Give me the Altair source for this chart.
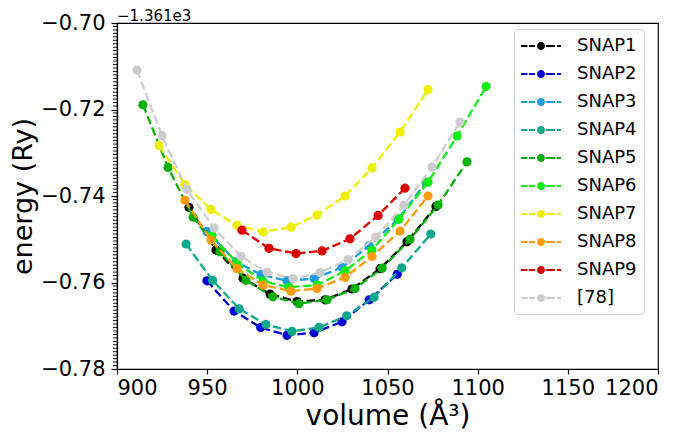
import altair as alt
import pandas as pd

# energies are shown relative to -1361 Ry (axis offset label below)
offset_label = "−1.361e3"
series_names = ["SNAP1", "SNAP2", "SNAP3", "SNAP4", "SNAP5",
                "SNAP6", "SNAP7", "SNAP8", "SNAP9", "[78]"]
series_colors = ["#000000", "#0000d8", "#1a9ce0", "#10a88c", "#0ab00a",
                 "#10ee10", "#eeee00", "#ff9a0a", "#dd0000", "#cccccc"]

snap1_vol = [939.9, 954.9, 969.9, 984.9, 999.8, 1015.4, 1030.3, 1045.9, 1060.8, 1076.9]
snap1_e = [-0.7426, -0.7525, -0.7590, -0.7627, -0.7644, -0.7640, -0.7615, -0.7568, -0.7506, -0.7424]

snap2_vol = [949.9, 964.9, 979.7, 994.3, 1009.3, 1024.8, 1039.9, 1055.4]
snap2_e = [-0.7596, -0.7666, -0.7704, -0.7722, -0.7716, -0.7691, -0.7640, -0.7581]

snap3_vol = [949.9, 966.0, 979.9, 994.3, 1009.3, 1024.8, 1039.8, 1055.8, 1071.4]
snap3_e = [-0.7482, -0.7552, -0.7582, -0.7596, -0.7591, -0.7565, -0.7515, -0.7454, -0.7368]

snap4_vol = [938.3, 953.0, 967.8, 982.6, 997.0, 1012.0, 1027.4, 1042.6, 1057.9, 1074.0]
snap4_e = [-0.7511, -0.7595, -0.7661, -0.7697, -0.7713, -0.7704, -0.7677, -0.7634, -0.7566, -0.7488]

snap5_vol = [914.4, 928.3, 942.2, 957.1, 971.5, 986.5, 1000.9, 1016.5, 1032.0, 1047.0, 1062.5, 1078.0, 1094.1]
snap5_e = [-0.7189, -0.7334, -0.7449, -0.7529, -0.7595, -0.7633, -0.7649, -0.7640, -0.7614, -0.7567, -0.7500, -0.7421, -0.7321]

snap6_vol = [952.7, 966.6, 981.0, 995.4, 1011.0, 1026.5, 1041.4, 1056.4, 1072.5, 1088.6, 1104.7]
snap6_e = [-0.7491, -0.7555, -0.7597, -0.7611, -0.7606, -0.7573, -0.7525, -0.7453, -0.7368, -0.7261, -0.7147]

snap7_vol = [923.3, 937.7, 952.1, 966.6, 981.0, 996.5, 1010.9, 1026.5, 1041.4, 1057.0, 1072.5]
snap7_e = [-0.7283, -0.7374, -0.7431, -0.7468, -0.7483, -0.7472, -0.7444, -0.7400, -0.7335, -0.7252, -0.7154]

snap8_vol = [937.7, 952.1, 966.6, 981.0, 996.5, 1010.9, 1026.5, 1041.4, 1057.0, 1072.5]
snap8_e = [-0.7410, -0.7502, -0.7568, -0.7606, -0.7620, -0.7614, -0.7588, -0.7540, -0.7481, -0.7400]

snap9_vol = [969.3, 984.3, 999.3, 1013.7, 1029.2, 1044.8, 1059.7]
snap9_e = [-0.7479, -0.7521, -0.7533, -0.7527, -0.7499, -0.7445, -0.7382]

ref78_vol = [911.1, 925.0, 938.8, 953.8, 968.8, 983.2, 997.6, 1012.6, 1028.1, 1043.6, 1059.2, 1074.7, 1090.2]
ref78_e = [-0.7109, -0.7261, -0.7385, -0.7474, -0.7540, -0.7576, -0.7591, -0.7577, -0.7547, -0.7495, -0.7421, -0.7333, -0.7229]

x_ticks = [900, 950, 1000, 1050, 1100, 1150, 1200]
y_ticks = [-0.78, -0.76, -0.74, -0.72, -0.70]

all_vol = [snap1_vol, snap2_vol, snap3_vol, snap4_vol, snap5_vol,
           snap6_vol, snap7_vol, snap8_vol, snap9_vol, ref78_vol]
all_e = [snap1_e, snap2_e, snap3_e, snap4_e, snap5_e,
         snap6_e, snap7_e, snap8_e, snap9_e, ref78_e]

rows = []
for name, vols, es in zip(series_names, all_vol, all_e):
    for v, e in zip(vols, es):
        rows.append({"series": name, "volume": v, "energy": e})
df = pd.DataFrame(rows)

# minor y ticks
minor_step = 0.0008
minor_ticks = []
k = 1
while True:
    val = round(-0.78 + k * minor_step, 5)
    if val >= -0.70 - 1e-9:
        break
    if all(abs(val - t) > 1e-6 for t in y_ticks):
        minor_ticks.append(val)
    k += 1

FONT = "DejaVu Sans"
x_scale = alt.Scale(domain=[900, 1200], nice=False, zero=False)
y_scale = alt.Scale(domain=[-0.78, -0.70], nice=False, zero=False)

x_axis = alt.Axis(values=x_ticks, format="d", title="volume (Å³)", grid=False,
                  tickSize=5, labelFontSize=21, titleFontSize=28, labelPadding=3,
                  titlePadding=4, labelFont=FONT, titleFont=FONT, titleFontWeight="normal",
                  domainColor="black", tickColor="black", labelColor="black",
                  titleColor="black", domainWidth=1.2, tickWidth=1.2)
y_axis = alt.Axis(values=y_ticks, format=".2f", labelExpr="replace(datum.label, '-', '−')",
                  title="energy (Ry)", grid=False, tickSize=6, labelFontSize=21,
                  titleFontSize=27, labelPadding=6, titleX=-80, titleY=173,
                  titleBaseline="bottom", labelFont=FONT,
                  titleFont=FONT, titleFontWeight="normal", domainColor="black",
                  tickColor="black", labelColor="black", titleColor="black",
                  domainWidth=1.2, tickWidth=1.2)

legend_path = ("M-2,-0.1H-1.35V0.1H-2Z M-1.2,-0.1H-0.6V0.1H-1.2Z "
               "M0.5,-0.1H1.4V0.1H0.5Z M1.6,-0.1H2V0.1H1.6Z "
               "M-0.4,0A0.4,0.4 0 1,0 0.4,0A0.4,0.4 0 1,0 -0.4,0Z")
legend = alt.Legend(title=None, orient="none", legendX=397, legendY=6,
                    symbolType=legend_path, symbolSize=400, symbolStrokeWidth=0,
                    symbolOffset=10, labelOffset=26, labelFontSize=18, labelFont=FONT,
                    labelColor="black", rowPadding=9, padding=7, strokeColor="#cccccc",
                    fillColor="white", cornerRadius=4, labelLimit=200)
color_enc = alt.Color("series:N", scale=alt.Scale(domain=series_names, range=series_colors),
                      legend=legend)

layers = []
for i, name in enumerate(series_names):
    base = alt.Chart(df).transform_filter(alt.datum.series == name)
    line = base.mark_line(strokeDash=[8.5, 3.7], strokeWidth=2.3).encode(
        x=alt.X("volume:Q", scale=x_scale, axis=x_axis),
        y=alt.Y("energy:Q", scale=y_scale, axis=y_axis),
        color=color_enc,
        order="volume:Q",
    )
    pts = base.mark_circle(size=85, opacity=1).encode(
        x=alt.X("volume:Q", scale=x_scale, axis=x_axis),
        y=alt.Y("energy:Q", scale=y_scale, axis=y_axis),
        color=color_enc,
    )
    layers += [line, pts]

# minor ticks on the y axis, placed on the axis line (x = left end of the x scale)
minor_layer = alt.Chart(pd.DataFrame({"tick": minor_ticks})).mark_tick(
    orient="horizontal", size=4, thickness=1.1, xOffset=-2, color="#222222", opacity=1
).encode(
    x=alt.datum(x_ticks[0], scale=x_scale, axis=x_axis),
    y=alt.Y("tick:Q", scale=y_scale, axis=y_axis),
)
layers.append(minor_layer)

# axis offset label at the top-left corner of the axes
offset_text = alt.Chart(pd.DataFrame({"label": [offset_label]})).mark_text(
    align="left", baseline="alphabetic", dy=-2, fontSize=15, font=FONT, color="black"
).encode(
    x=alt.datum(x_ticks[0], scale=x_scale, axis=x_axis),
    y=alt.datum(y_ticks[-1], scale=y_scale, axis=y_axis),
    text="label:N",
)
layers.append(offset_text)

chart = alt.layer(*layers).properties(
    width=541, height=346,
    autosize=alt.AutoSizeParams(type="none"),
    padding={"left": 109, "top": 15, "right": 10, "bottom": 62},
).configure_view(stroke="black", strokeWidth=1.2)

chart.save("out.html", embed_options={"renderer": "svg", "actions": False})
